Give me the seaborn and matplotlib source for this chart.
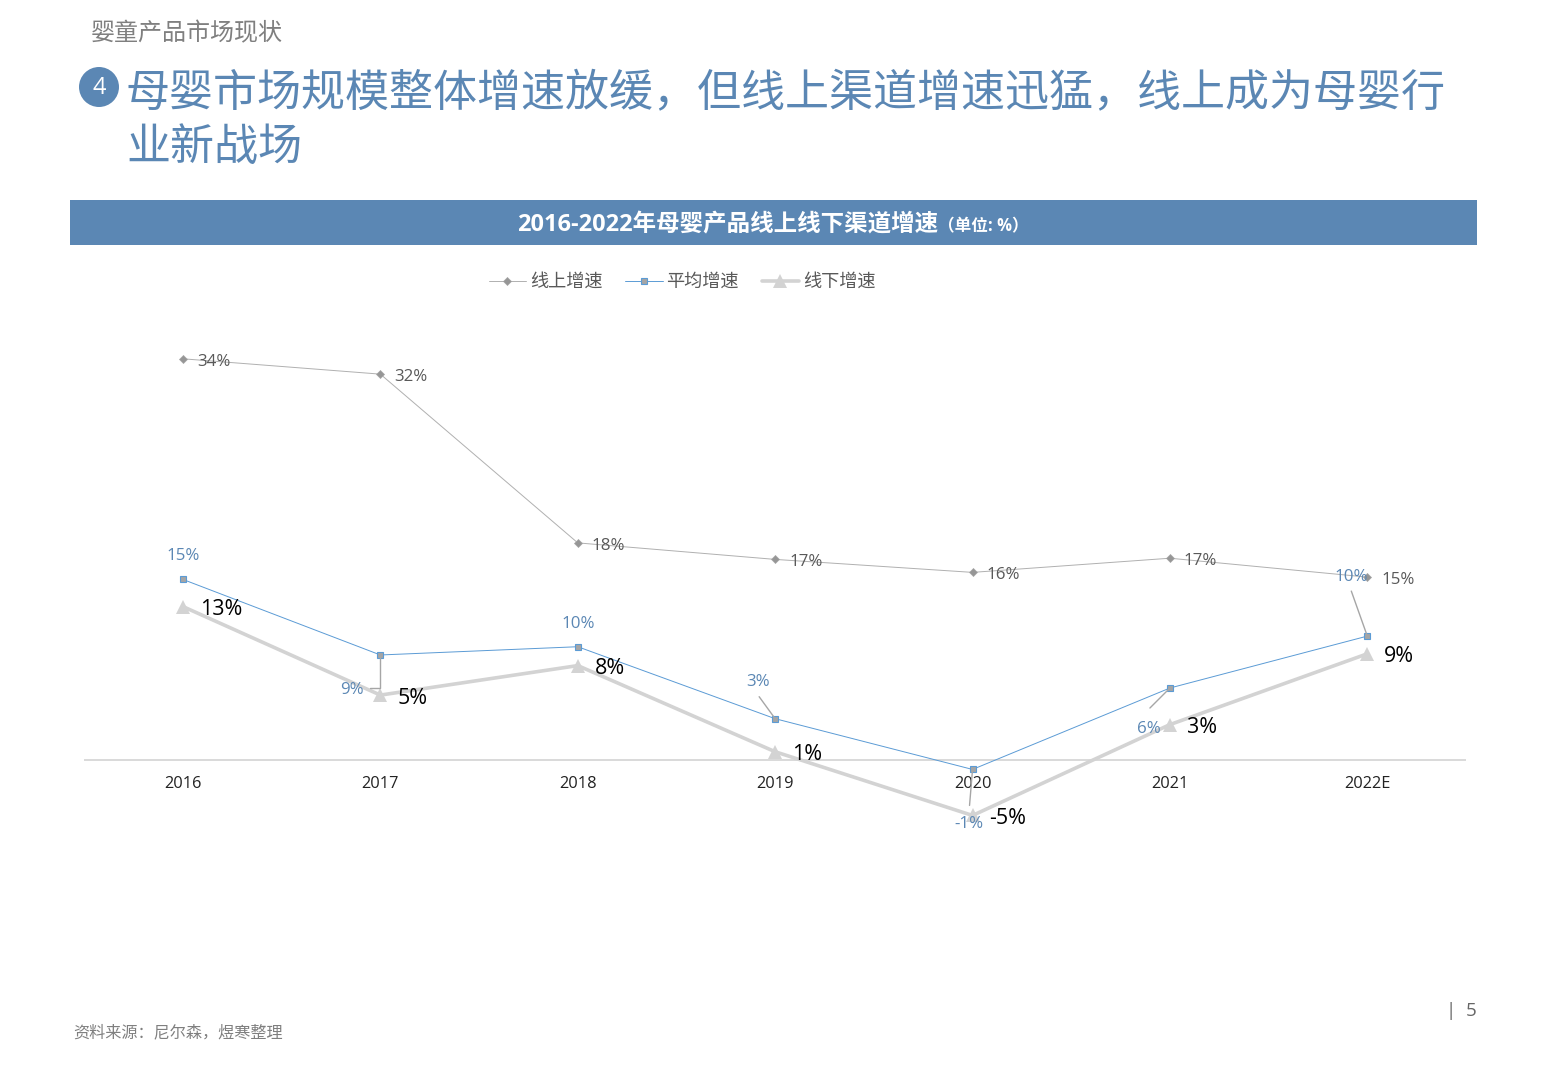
import matplotlib
matplotlib.use("Agg")
import matplotlib.pyplot as plt
from matplotlib.patches import Circle, Rectangle
import seaborn as sns

years = ["2016", "2017", "2018", "2019", "2020", "2021", "2022E"]

# the labels do not always agree with the line height
online = [34.0, 32.7, 18.4, 17.0, 15.9, 17.1, 15.5]
average = [15.3, 8.9, 9.6, 3.5, -0.8, 6.1, 10.5]
offline = [13.0, 5.5, 8.0, 0.7, -4.7, 3.0, 9.0]

online_labels = ["34%", "32%", "18%", "17%", "16%", "17%", "15%"]
average_labels = ["15%", "9%", "10%", "3%", "-1%", "6%", "10%"]
offline_labels = ["13%", "5%", "8%", "1%", "-5%", "3%", "9%"]

series_names = ["线上增速", "平均增速", "线下增速"]

BLUE = "#5b87b4"
FONT = ["Open Sans", "Noto Sans CJK SC", "DejaVu Sans"]
CJK = ["Noto Sans CJK SC", "DejaVu Sans"]

sns.set_theme(style="white")
plt.rcParams["font.family"] = FONT

W, H = 1560, 1080
fig = plt.figure(figsize=(W / 100, H / 100), dpi=100, facecolor="white")


def fx(x):
    return x / W


def fy(y):
    return 1 - y / H


def px(v):
    # pixels to points
    return v * 0.72


# page furniture
fig.text(fx(91), fy(33), "婴童产品市场现状", family=CJK, fontsize=17.3, color="#7f7f7f",
         ha="left", va="center")
fig.add_artist(Circle((99, H - 87), 20, transform=None, color=BLUE, lw=0))
fig.text(fx(99), fy(88), "4", fontsize=17, color="white", ha="center", va="center")
fig.text(fx(126), fy(93), "母婴市场规模整体增速放缓，但线上渠道增速迅猛，线上成为母婴行", family=CJK,
         fontsize=31.7, color=BLUE, ha="left", va="center")
fig.text(fx(126), fy(147), "业新战场", family=CJK, fontsize=31.7, color=BLUE, ha="left", va="center")

fig.add_artist(Rectangle((fx(70), fy(245)), fx(1407), 45 / H, transform=fig.transFigure,
                         color=BLUE, lw=0))
fig.text(fx(517), fy(225), "2016-2022年母婴产品线上线下渠道增速", fontsize=16.9, weight="bold",
         color="white", ha="left", va="center")
fig.text(fx(938), fy(226), "（单位: %）", fontsize=12, weight="bold", color="white",
         ha="left", va="center")

fig.text(fx(73), fy(1033), "资料来源：尼尔森，煜寒整理", family=CJK, fontsize=11.6, color="#7f7f7f",
         ha="left", va="center")
fig.text(fx(1477), fy(1011), "|  5", fontsize=13.5, color="#666666", ha="right", va="center")

# chart area, y=0 sits at pixel 760 with 11.8 px per unit
left, right, top, bottom = 84.3, 1466, 300, 900
ax = fig.add_axes([fx(left), fy(bottom), fx(right - left), (bottom - top) / H])
ax.patch.set_alpha(0)

sns.lineplot(x=years, y=online, ax=ax, sort=False, errorbar=None, label=series_names[0],
             color="#b0b0b0", lw=0.7, marker="D", ms=4.2, mfc="#969696", mec="#a5a5a5", mew=0.5)
sns.lineplot(x=years, y=average, ax=ax, sort=False, errorbar=None, label=series_names[1],
             color="#5b9bd5", lw=0.7, marker="s", ms=5, mfc="#a5a5a5", mec="#5b9bd5", mew=0.8)
sns.lineplot(x=years, y=offline, ax=ax, sort=False, errorbar=None, label=series_names[2],
             color="#d3d3d3", lw=2.6, marker="^", ms=10.5, mfc="#d3d3d3", mec="#d3d3d3", mew=0)

ax.set_xlim(-0.5, 6.5)
ax.set_ylim((760 - bottom) / 11.8, (760 - top) / 11.8)
ax.axhline(0, color="#d0d0d0", lw=1.1, zorder=1)
sns.despine(ax=ax, left=True, bottom=True, top=True, right=True)
ax.set_xlabel("")
ax.set_ylabel("")
ax.set_yticks([])
ax.set_xticks(range(len(years)), years)
ax.tick_params(axis="x", length=0, pad=0, labelsize=11.8, labelcolor="#222222")
for lab in ax.get_xticklabels():
    # ticks hang under the zero line, not at the bottom of the axes
    lab.set_transform(ax.get_xaxis_transform() + matplotlib.transforms.ScaledTranslation(0, 116 / 100, fig.dpi_scale_trans))
    lab.set_va("center")

ax.legend(loc="center", bbox_to_anchor=(fx(682), fy(282)), bbox_transform=fig.transFigure,
          ncol=3, frameon=False, fontsize=13.1, labelcolor="#595959", handlelength=2.07,
          handletextpad=0.2, columnspacing=1.25, borderpad=0)

# data labels
for i, lab in enumerate(online_labels):
    ax.annotate(lab, (i, online[i]), xytext=(px(14), px(-3)), textcoords="offset points",
                fontsize=12.2, color="#595959", ha="left", va="center", zorder=6)

average_offsets = [(0, 23), (-28, -35), (0, 23), (-17, 37), (-4, -55), (-21, -41), (-16, 59)]
for i, lab in enumerate(average_labels):
    dx, dy = average_offsets[i]
    ax.annotate(lab, (i, average[i]), xytext=(px(dx), px(dy)), textcoords="offset points",
                fontsize=12.2, color=BLUE, ha="center", va="center", zorder=6)

for i, lab in enumerate(offline_labels):
    ax.annotate(lab, (i, offline[i]), xytext=(px(17), px(-3)), textcoords="offset points",
                fontsize=15.4, color="black", ha="left", va="center", zorder=6)

# leader lines from the moved average labels
leaders = {1: (-10, -33), 3: (-16, 22), 4: (-3, -36), 5: (-20, -20), 6: (-16, 45)}
for i, (dx, dy) in leaders.items():
    style = "angle,angleA=0,angleB=90,rad=0" if i == 1 else "arc3"
    ax.annotate("", (i, average[i]), xytext=(px(dx), px(dy)), textcoords="offset points",
                arrowprops=dict(arrowstyle="-", color="#a6a6a6", lw=1, shrinkA=0, shrinkB=0,
                                connectionstyle=style), zorder=5)

fig.savefig("out.png", dpi=100)
